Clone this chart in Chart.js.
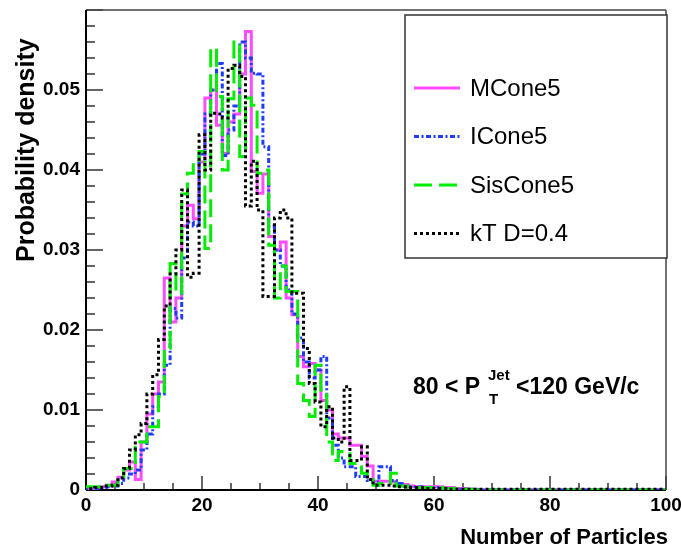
<!DOCTYPE html>
<html>
<head>
<meta charset="utf-8">
<script src="https://cdn.jsdelivr.net/npm/chart.js@4.4.1/dist/chart.umd.min.js"></script>
<style>
  html, body { margin: 0; padding: 0; background: #fff; }
  #wrap { width: 681px; height: 553px; position: relative; }
</style>
</head>
<body>
<div id="wrap"><canvas id="chart"></canvas></div>
<script>
// bins are one particle wide, centred on integers 0..99
const SERIES_NAMES = ['MCone5', 'ICone5', 'SisCone5', 'kT D=0.4'];

const mcone5 = [
  0.0002,0.0002,0.0003,0.0004,0.0006,0.0010,0.0016,0.0025,0.0035,0.0013,
  0.0060,0.0095,0.0120,0.0135,0.0265,0.0210,0.0240,0.0330,0.0356,0.0339,
  0.0410,0.0490,0.0500,0.0456,0.0421,0.0460,0.0470,0.0520,0.0573,0.0398,
  0.0371,0.0395,0.0317,0.0300,0.0310,0.0240,0.0219,0.0167,0.0154,0.0158,
  0.0150,0.0112,0.0100,0.0070,0.0065,0.0065,0.0056,0.0056,0.0042,0.0030,
  0.0011,0.0011,0.0011,0.0010,0.0007,0.0007,0.0005,0.0004,0.0004,0.0004,
  0.0004,0.0004,0.0003,0.0003,0.0002,0.0002,0.0001,0.0001,0,0,
  0,0,0,0,0,0,0,0,0,0,
  0,0,0,0,0,0,0,0,0,0,
  0,0,0,0,0,0,0,0,0,0
];
const icone5 = [
  0.0001,0.0001,0.0002,0.0003,0.0004,0.0005,0.0008,0.0015,0.0020,0.0025,
  0.0050,0.0070,0.0104,0.0120,0.0156,0.0227,0.0215,0.0290,0.0335,0.0330,
  0.0420,0.0470,0.0500,0.0533,0.0418,0.0450,0.0480,0.0560,0.0540,0.0521,
  0.0520,0.0429,0.0330,0.0300,0.0280,0.0250,0.0220,0.0190,0.0160,0.0140,
  0.0150,0.0167,0.0090,0.0056,0.0040,0.0029,0.0029,0.0017,0.0017,0.0012,
  0.0010,0.0029,0.0029,0.0012,0.0008,0.0005,0.0004,0.0004,0.0004,0.0003,
  0.0003,0.0003,0.0002,0.0002,0.0001,0.0001,0.0001,0,0,0,
  0,0,0,0,0,0,0,0,0,0,
  0,0,0,0,0,0,0,0,0,0,
  0,0,0,0,0,0,0,0,0,0
];
const siscone5 = [
  0.0004,0.0004,0.0004,0.0004,0.0006,0.0006,0.0017,0.0027,0.0027,0.0060,
  0.0060,0.0079,0.0079,0.0117,0.0177,0.0283,0.0246,0.0370,0.0396,0.0410,
  0.0423,0.0302,0.0552,0.0492,0.0400,0.0489,0.0560,0.0417,0.0490,0.0481,
  0.0396,0.0400,0.0306,0.0240,0.0280,0.0248,0.0248,0.0133,0.0112,0.0092,
  0.0156,0.0125,0.0060,0.0037,0.0048,0.0048,0.0033,0.0033,0.0021,0.0013,
  0.0006,0.0008,0.0008,0.0021,0.0005,0.0005,0.0003,0.0003,0.0003,0.0003,
  0.0003,0.0003,0.0002,0.0002,0.0002,0.0001,0.0001,0,0,0,
  0,0,0,0,0,0,0,0,0,0,
  0,0,0,0,0,0,0,0,0,0,
  0,0,0,0,0,0,0,0,0,0
];
const ktD04 = [
  0.0002,0.0002,0.0003,0.0003,0.0005,0.0006,0.0015,0.0027,0.0050,0.0069,
  0.0083,0.0120,0.0144,0.0188,0.0230,0.0270,0.0300,0.0375,0.0266,0.0271,
  0.0444,0.0400,0.0471,0.0470,0.0465,0.0527,0.0531,0.0517,0.0355,0.0411,
  0.0350,0.0242,0.0242,0.0340,0.0350,0.0340,0.0246,0.0246,0.0177,0.0133,
  0.0110,0.0079,0.0104,0.0065,0.0060,0.0129,0.0037,0.0037,0.0054,0.0013,
  0.0006,0.0006,0.0006,0.0005,0.0004,0.0004,0.0003,0.0003,0.0003,0.0002,
  0.0002,0.0002,0.0002,0.0001,0.0001,0.0001,0.0001,0.0001,0.0001,0.0001,
  0.0001,0.0001,0.0001,0.0001,0.0001,0.0001,0.0001,0.0001,0.0001,0.0001,
  0.0001,0.0001,0.0001,0.0001,0.0001,0.0001,0.0001,0.0001,0.0001,0.0001,
  0.0001,0.0001,0.0001,0.0001,0.0001,0.0001,0.0001,0.0001,0.0001,0.0001
];

const X_TICKS = [0, 20, 40, 60, 80, 100];
const Y_TICKS = [0, 0.01, 0.02, 0.03, 0.04, 0.05];

const seriesColors = ['#ff4cff', '#1e3cff', '#00ee00', '#000000'];
const seriesDashes = [[], [5, 2.5, 2, 2.5], [18, 7], [3, 3]];
const drawOrder = [4, 3, 2, 1];

const FONT = 'Liberation Sans, Arial, Helvetica, sans-serif';

// one point per bin lower edge, plus the closing edge at 100
function toSteps(vals) {
  const pts = vals.map((v, k) => ({ x: k - 0.5, y: v }));
  pts.push({ x: 100, y: vals[vals.length - 1] });
  return pts;
}

const allSeries = [mcone5, icone5, siscone5, ktD04];
const datasets = allSeries.map((vals, i) => ({
  label: SERIES_NAMES[i],
  data: toSteps(vals),
  borderColor: seriesColors[i],
  backgroundColor: seriesColors[i],
  borderDash: seriesDashes[i],
  borderWidth: 3,
  stepped: true,
  pointRadius: 0,
  fill: false,
  tension: 0,
  order: drawOrder[i]
}));

function line(ctx, x1, y1, x2, y2) {
  ctx.beginPath(); ctx.moveTo(x1, y1); ctx.lineTo(x2, y2); ctx.stroke();
}

function noScalePadding(s) {
  s.paddingTop = 0; s.paddingBottom = 0; s.paddingLeft = 0; s.paddingRight = 0;
}

const rootStyle = {
  id: 'rootStyle',
  beforeDatasetsDraw(chart) {
    const { ctx, chartArea: a, scales: { x, y } } = chart;
    ctx.save();
    ctx.strokeStyle = '#000';
    ctx.lineWidth = 1.2;
    // ticks drawn inside the frame, ROOT style
    for (let i = 0; i <= 30; i++) {
      const py = y.getPixelForValue(i * 0.002);
      line(ctx, a.left, py, a.left + (i % 5 === 0 ? 17 : 9), py);
    }
    for (let i = 0; i <= 20; i++) {
      const px = x.getPixelForValue(i * 5);
      line(ctx, px, a.bottom, px, a.bottom - (i % 4 === 0 ? 14 : 7));
    }
    // frame
    ctx.strokeStyle = '#444';
    ctx.lineWidth = 1.5;
    line(ctx, a.left, a.top, a.right, a.top);
    line(ctx, a.right, a.top, a.right, a.bottom);
    ctx.strokeStyle = '#000';
    ctx.lineWidth = 2;
    line(ctx, a.left, a.top, a.left, a.bottom);
    line(ctx, a.left, a.bottom, a.right, a.bottom);
    ctx.restore();
  },
  afterDraw(chart) {
    const { ctx, chartArea: a } = chart;
    ctx.save();
    ctx.fillStyle = '#000';

    // axis titles, aligned to the axis ends as ROOT does
    ctx.font = 'bold 22px ' + FONT;
    ctx.textAlign = 'right';
    ctx.textBaseline = 'middle';
    ctx.fillText('Number of Particles', 668, 538);

    ctx.font = 'bold 25px ' + FONT;
    ctx.translate(27, 262);
    ctx.rotate(-Math.PI / 2);
    ctx.textAlign = 'left';
    ctx.fillText('Probability density', 0, 0);
    ctx.setTransform(1, 0, 0, 1, 0, 0);

    // legend box
    const bx = 405, by = 15, bw = 262, bh = 243;
    ctx.fillStyle = '#fff';
    ctx.fillRect(bx, by, bw, bh);
    ctx.strokeStyle = '#333';
    ctx.lineWidth = 1.5;
    ctx.strokeRect(bx, by, bw, bh);
    chart.data.datasets.forEach((ds, i) => {
      const cy = 88 + i * 48.5;
      ctx.strokeStyle = ds.borderColor;
      ctx.lineWidth = 3;
      ctx.setLineDash(ds.borderDash);
      line(ctx, 414, cy, 460, cy);
      ctx.setLineDash([]);
      ctx.fillStyle = '#000';
      ctx.font = '24px ' + FONT;
      ctx.textAlign = 'left';
      ctx.textBaseline = 'middle';
      ctx.fillText(ds.label, 470, cy + 1);
    });

    // kinematic range label
    ctx.fillStyle = '#000';
    ctx.textBaseline = 'alphabetic';
    ctx.textAlign = 'left';
    const base = 394;
    ctx.font = 'bold 23px ' + FONT;
    ctx.fillText('80 < P', 413, base);
    ctx.font = 'bold 15px ' + FONT;
    ctx.fillText('Jet', 488, base - 14);
    ctx.fillText('T', 489, base + 10);
    ctx.font = 'bold 23px ' + FONT;
    ctx.fillText('<120 GeV/c', 516, base);

    ctx.restore();
  }
};

new Chart(document.getElementById('chart'), {
  type: 'line',
  data: { datasets },
  options: {
    responsive: true,
    maintainAspectRatio: false,
    animation: false,
    layout: { padding: { top: 10, right: 15, left: 0, bottom: 0 }, autoPadding: false },
    plugins: { legend: { display: false }, tooltip: { enabled: false } },
    scales: {
      x: {
        type: 'linear', min: 0, max: 100,
        afterBuildTicks: s => { s.ticks = X_TICKS.map(v => ({ value: v })); },
        afterFit: s => { s.height = 63; noScalePadding(s); },
        grid: { display: false, drawTicks: false },
        border: { display: false },
        ticks: {
          color: '#000', padding: 4, maxRotation: 0, autoSkip: false,
          font: { family: FONT, weight: 'bold', size: 19 },
          callback: v => String(v)
        }
      },
      y: {
        type: 'linear', min: 0, max: 0.06,
        afterBuildTicks: s => { s.ticks = Y_TICKS.map(v => ({ value: v })); },
        afterFit: s => { s.width = 86; noScalePadding(s); },
        grid: { display: false, drawTicks: false },
        border: { display: false },
        ticks: {
          color: '#000', padding: 6,
          font: { family: FONT, weight: 'bold', size: 19 },
          callback: v => v === 0 ? '0' : v.toFixed(2)
        }
      }
    }
  },
  plugins: [rootStyle]
});
</script>
</body>
</html>
